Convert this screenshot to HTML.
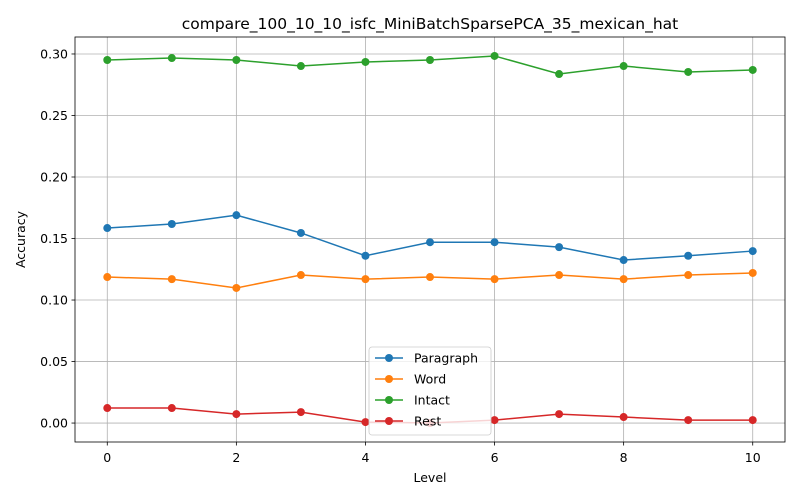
<!DOCTYPE html>
<html><head><meta charset="utf-8"><style>
body{margin:0;background:#fff;font-family:"DejaVu Sans","Liberation Sans",sans-serif}
</style></head><body>
<svg id="chart" width="800" height="500" xmlns="http://www.w3.org/2000/svg" style="font-family:'DejaVu Sans','Liberation Sans',sans-serif"></svg>
<script>
const levels=[0,1,2,3,4,5,6,7,8,9,10];
const paragraph=[0.1585,0.1618,0.169,0.1545,0.136,0.147,0.147,0.143,0.1325,0.136,0.1398];
const word=[0.1187,0.117,0.1098,0.1203,0.117,0.1187,0.117,0.1203,0.117,0.1203,0.122];
const intact=[0.2951,0.2967,0.2951,0.2902,0.2935,0.2951,0.2984,0.2837,0.2902,0.2854,0.287];
const rest=[0.0122,0.0122,0.0073,0.0089,0.0008,0.0,0.0024,0.0073,0.0049,0.0024,0.0024];
const xTicks=[0,2,4,6,8,10];
const yTicks=[0,0.05,0.10,0.15,0.20,0.25,0.30];
const seriesNames=["Paragraph","Word","Intact","Rest"];
const seriesColors=["#1f77b4","#ff7f0e","#2ca02c","#d62728"];
const seriesData=[paragraph,word,intact,rest];

const L=75,R=785,T=37,B=442;
const xMin=-0.5,xMax=10.5,yMin=-0.0154,yMax=0.3138;
const X=v=>L+(v-xMin)/(xMax-xMin)*(R-L);
const Y=v=>B-(v-yMin)/(yMax-yMin)*(B-T);
const svg=document.getElementById('chart');
const NS="http://www.w3.org/2000/svg";
function mk(tag,attrs,parent){const e=document.createElementNS(NS,tag);for(const k in attrs)e.setAttribute(k,attrs[k]);(parent||svg).appendChild(e);return e;}

xTicks.forEach(t=>{const g=mk('line',{x1:X(t),x2:X(t),y1:T,y2:B,stroke:'#b0b0b0','stroke-width':0.8});

});
yTicks.forEach(t=>{const g=mk('line',{x1:L,x2:R,y1:Y(t),y2:Y(t),stroke:'#b0b0b0','stroke-width':0.8});

});

seriesData.forEach((d,i)=>{
  const p=mk('polyline',{points:d.map((v,j)=>X(levels[j])+','+Y(v)).join(' '),fill:'none',stroke:seriesColors[i],'stroke-width':1.5});
  
  
  d.forEach((v,j)=>{const c=mk('circle',{cx:X(levels[j]),cy:Y(v),r:4,fill:seriesColors[i]});
    
    });
});

const fr=mk('rect',{x:L,y:T,width:R-L,height:B-T,fill:'none',stroke:'#000','stroke-width':0.8});



xTicks.forEach(t=>{mk('line',{x1:X(t),x2:X(t),y1:B,y2:B+3.5,stroke:'#000','stroke-width':0.8});
  const tx=mk('text',{x:X(t),y:B+20,'text-anchor':'middle','font-size':12.5,fill:'#000'});tx.textContent=t;
  
  });
yTicks.forEach(t=>{mk('line',{x1:L-3.5,x2:L,y1:Y(t),y2:Y(t),stroke:'#000','stroke-width':0.8});
  const tx=mk('text',{x:L-7,y:Y(t)+4.5,'text-anchor':'end','font-size':12.5,fill:'#000'});tx.textContent=t.toFixed(2);
  
  });

const xt=mk('text',{x:(L+R)/2,y:482,'text-anchor':'middle','font-size':12.5});xt.textContent='Level';


const yt=mk('text',{x:25,y:(T+B)/2,'text-anchor':'middle','font-size':12.5,transform:'rotate(-90 25 '+((T+B)/2)+')'});yt.textContent='Accuracy';


const ti=mk('text',{x:(L+R)/2,y:29,'text-anchor':'middle','font-size':15.5});ti.textContent='compare_100_10_10_isfc_MiniBatchSparsePCA_35_mexican_hat';



const lg=mk('g',{});


mk('rect',{x:369,y:347,width:122,height:88,rx:3,fill:'#fff','fill-opacity':0.8,stroke:'#ccc','stroke-width':0.8},lg);
seriesNames.forEach((n,i)=>{const y=358+i*21;
  const e=mk('g',{},lg);
  
  
  mk('line',{x1:375,x2:403,y1:y,y2:y,stroke:seriesColors[i],'stroke-width':1.5},e);
  mk('circle',{cx:389,cy:y,r:4,fill:seriesColors[i]},e);
  const t=mk('text',{x:414,y:y+4.5,'font-size':12.5},e);t.textContent=n;});
</script>
</body></html>
